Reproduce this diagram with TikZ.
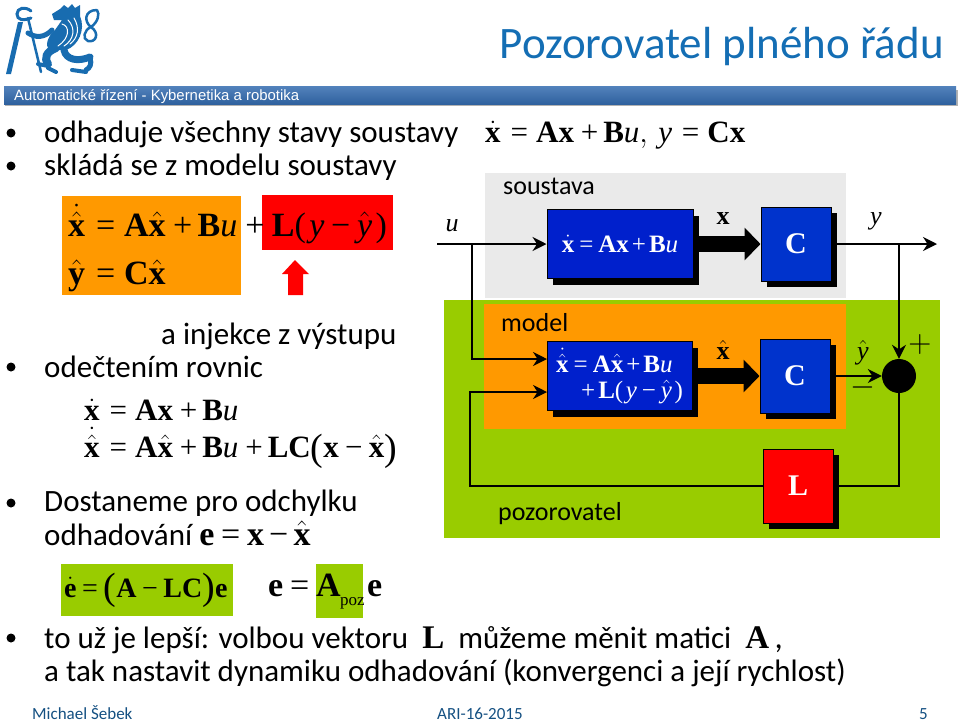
\documentclass[tikz,border=0pt]{standalone}
\usepackage{fix-cm}
\usepackage{fontspec}
\setmainfont{Carlito}
\newfontfamily\tms{Liberation Serif}
\newfontfamily\arl{Liberation Sans}
\usetikzlibrary{arrows.meta,shadows}
\definecolor{cvutblue}{RGB}{24,108,176}
\definecolor{titleblue}{RGB}{20,110,180}
\definecolor{barblue}{RGB}{52,108,176}
\definecolor{boxgrey}{RGB}{234,234,234}
\definecolor{boxgreen}{RGB}{153,204,0}
\definecolor{boxorange}{RGB}{255,153,0}
\definecolor{blockblue}{RGB}{0,32,204}
\definecolor{cblue}{RGB}{0,51,204}
\definecolor{footblue}{RGB}{20,80,130}
\newcommand{\bv}[1]{\mbox{\tms\bfseries #1}}
\newcommand{\iv}[1]{\mbox{\tms\itshape #1}}
\newcommand{\xh}{\hat{\bv{x}}}
\newcommand{\xd}{\dot{\bv{x}}}
\newcommand{\xhd}{\dot{\xh}}
\newcommand{\yh}{\hat{\iv{y}}}
\newcommand{\EQ}{\mbox{\tms\kern.2em=\kern.2em}}
\newcommand{\EQW}{\mbox{\tms\kern.32em=\kern.26em}}
\newcommand{\PL}{\mbox{\tms\kern.12em+\kern.12em}}
\newcommand{\PLW}{\mbox{\tms\kern.22em+\kern.16em}}
\newcommand{\MN}{\mbox{\tms\kern.2em−\kern.2em}}
\newcommand{\LP}{\mbox{\tms(\kern.1em}}
\newcommand{\RP}{\mbox{\tms\kern.1em)}}
\newcommand{\BLP}{\raisebox{-.1em}{\tms\fontsize{38}{38}\selectfont(}}
\newcommand{\BRP}{\raisebox{-.1em}{\tms\fontsize{38}{38}\selectfont)}}
\newcommand{\fs}[1]{\fontsize{#1}{#1}\selectfont}
\begin{document}
\begin{tikzpicture}[x=1pt,y=-1pt,>=Stealth]
\tikzstyle{para}=[anchor=base west,inner sep=0pt,font=\fs{31}]
\tikzstyle{eqn}=[anchor=base west,inner sep=0pt,font=\fs{31}]
\tikzstyle{eqbig}=[anchor=base west,inner sep=0pt,font=\fs{34}]
\tikzstyle{tag}=[anchor=base west,inner sep=0pt,font=\fs{26}]
\tikzstyle{foot}=[anchor=base west,inner sep=0pt,font=\fs{17},text=footblue]
\tikzstyle{dotmark}=[circle,fill=black,inner sep=0pt,minimum size=9pt]
\tikzstyle{blk}=[draw=black,line width=1pt,text=white,align=center,inner sep=0pt,drop shadow={shadow xshift=5.5pt,shadow yshift=-6pt,fill=black,opacity=1}]
\tikzstyle{sig}=[line width=1.7pt,-{Stealth[length=14pt,width=14pt]}]
\tikzstyle{wire}=[line width=1.7pt]
\tikzstyle{fat}=[line width=16pt,-{Triangle[length=16pt,width=32pt]}]
\useasboundingbox (0,0) rectangle (960,724);
\fill[white] (0,0) rectangle (960,724);
% logo
\begin{scope}[cvutblue,line cap=round]
\fill (6,74) -- (18,22) -- (23,22) -- (11,74) -- cycle;
\draw[line width=3pt] (31,11) .. controls (25,6) and (17,8) .. (17,14) .. controls (17,20) and (23,21) .. (31,18);
\draw[line width=2.5pt] (28,18) -- (41,72);
\draw[line width=5pt] (28,33) .. controls (36,38) and (44,38) .. (52,30);
\fill (52,14) -- (60,9) -- (64,5) -- (68,8) -- (72,4) -- (75,8) -- (80,5) -- (80,16) .. controls (86,30) and (78,46) .. (66,50) -- (50,50) .. controls (44,46) and (48,36) .. (55,30) -- (62,20) -- (54,20) -- cycle;
\draw[line width=8pt] (56,48) .. controls (46,52) and (44,58) .. (48,64);
\draw[line width=4pt] (48,66) -- (38,64);
\draw[line width=4pt] (48,68) -- (56,72);
\draw[line width=7pt] (64,50) .. controls (66,60) and (78,62) .. (90,57);
\draw[line width=5pt] (90,58) .. controls (92,64) and (90,68) .. (86,70);
\draw[line width=4pt] (86,72) -- (72,70);
\draw[white,line width=1pt] (62,24) .. controls (70,26) and (70,38) .. (58,46);
\draw[white,line width=1pt] (68,20) .. controls (76,28) and (74,40) .. (64,46);
\draw[white,line width=1pt] (74,18) .. controls (80,28) and (78,38) .. (70,44);
\draw[line width=2.5pt] (97,10) .. controls (84,10) and (84,22) .. (91,27) .. controls (100,33) and (96,43) .. (88,41) .. controls (82,39) and (84,30) .. (91,27) .. controls (98,22) and (100,14) .. (97,10);
\end{scope}
% title and bar
\node[anchor=base east,inner sep=0pt,font=\fs{45},text=titleblue] (title) at (944,58) {Pozorovatel plného řádu};
\fill[black!30] (5,90) rectangle (958,106);
\shade[top color=barblue!85,bottom color=barblue!90!black] (4,86) rectangle (956,104);
\node[anchor=base west,inner sep=0pt,font=\arl\fs{14.9},text=white] (bar) at (14,100) {Automatické řízení - Kybernetika a robotika};
% bullets and text
\foreach \yy in {133,166,367,503,638} \node[dotmark] at (11,\yy) {};
\node[para] (t1) at (44,142) {odhaduje všechny stavy soustavy};
\node[para] (t2) at (44,175) {skládá se z modelu soustavy};
\node[para] (t3) at (161,344) {a injekce z výstupu};
\node[para] (t4) at (44,377) {odečtením rovnic};
\node[para] (t5) at (44,511) {Dostaneme pro odchylku};
\node[para] (t6) at (44,545) {odhadování {\fs{34}$\bv{e}\EQ\bv{x}\kern-.05em\MN\kern-.05em\xh$}};
\node[para] (t7) at (44,648) {to už je lepší: volbou vektoru\hspace{14pt}{\fs{33}\bv{L}}\hspace{14pt}můžeme měnit matici\hspace{14pt}{\fs{33}\bv{A}\,,}};
\node[para] (t8) at (44,681) {a tak nastavit dynamiku odhadování (konvergenci a její rychlost)};
\node[eqn] (eq0) at (485,142) {$\xd\EQW\bv{Ax}\PLW\bv{B}\iv{u},\,\iv{y}\EQW\bv{Cx}$};
% left boxes
\fill[boxorange] (62,196) rectangle (241,295);
\fill[red] (262,195) rectangle (393,250);
\fill[red] (295,260) -- (309,274) -- (303,274) -- (303,295) -- (288,295) -- (288,274) -- (282,274) -- cycle;
\node[eqbig] (eq1) at (68,236) {$\xhd\EQW\bv{A}\xh\PLW\bv{B}\iv{u}$};
\node[eqbig] (eq2) at (241,236) {$\PL\kern.1em\bv{L}\LP\iv{y}\MN\yh\RP$};
\node[eqbig] (eq3) at (68,284) {$\hat{\bv{y}}\EQW\bv{C}\xh$};
\node[eqn] (eq4) at (84,420) {$\xd\EQW\bv{Ax}\PLW\bv{B}\iv{u}$};
\node[eqn] (eq5) at (84,457) {$\xhd\EQW\bv{A}\xh\PLW\bv{B}\iv{u}\PLW\bv{LC}\BLP\bv{x}\MN\xh\BRP$};
\fill[boxgreen] (61,564) rectangle (233,616);
\fill[boxgreen] (316,564) rectangle (363,618);
\node[anchor=base west,inner sep=0pt,font=\fs{28}] (eq6) at (64,597) {$\dot{\bv{e}}\EQ\BLP\bv{A}\MN\bv{LC}\BRP\bv{e}$};
\node[eqbig] (eq7) at (268,596) {$\bv{e}\EQ\bv{A}$};
\node[anchor=base west,inner sep=0pt,font=\tms\fs{17}] (poz) at (340,605) {poz};
\node[eqbig] (eq8) at (367,596) {\bv{e}};
% block diagram
\fill[boxgrey] (485,173) rectangle (846,298);
\fill[boxgreen] (444,300) rectangle (940,538);
\fill[boxorange] (484,304) rectangle (846,429);
\node[tag] (soustava) at (503,194) {soustava};
\node[tag] (model) at (501,331) {model};
\node[tag] (pozor) at (498,520) {pozorovatel};
\node[blk,fill=blockblue,minimum width=146pt,minimum height=69pt,font=\fs{25}] (sys) at (620,244) {$\xd\EQ\bv{Ax}\PL\bv{B}\iv{u}$};
\node[blk,fill=cblue,minimum width=70pt,minimum height=74pt,font=\tms\bfseries\fs{30}] (c1) at (796,244) {C};
\node[blk,fill=blockblue,minimum width=145pt,minimum height=69pt,font=\fs{25},align=left] (obs) at (619.5,376) {$\xhd\EQ\bv{A}\xh\PL\bv{B}\iv{u}$\\[1pt]\hspace*{22pt}$\PL\bv{L}\LP\iv{y}\MN\yh\RP$};
\node[blk,fill=cblue,minimum width=70pt,minimum height=74pt,font=\tms\bfseries\fs{30}] (c2) at (795,376) {C};
\node[blk,fill=red,minimum width=70pt,minimum height=74pt,font=\tms\bfseries\fs{30}] (gain) at (798,486) {L};
\node[circle,fill=black,minimum size=34pt,inner sep=0pt] (sum) at (899,376) {};
\coordinate (uin) at (437,244);
\coordinate (ujoin) at (472,244);
\coordinate (uup) at (472,359);
\coordinate (ob1) at (547,359);
\coordinate (ob2) at (547,392);
\coordinate (fbup) at (470,392);
\coordinate (fbdn) at (470,486);
\coordinate (yout) at (937,244);
\coordinate (yjoin) at (899,244);
\coordinate (lout) at (899,486);
\coordinate (sysout) at (698.5,244);
\coordinate (obsout) at (698,376);
\draw[sig] (uin) -- (sys.west);
\draw[sig] (ujoin) -- (uup) -- (ob1);
\draw[sig] (gain.west) -- (fbdn) -- (fbup) -- (ob2);
\draw[fat] (sysout) -- (c1.west);
\draw[fat] (obsout) -- (c2.west);
\draw[sig] (c1.east) ++(5.5pt,0pt) -- (yout);
\draw[sig] (yjoin) -- (sum.north);
\draw[sig] (c2.east) ++(5.5pt,0pt) -- (sum.west);
\draw[wire] (sum.south) -- (lout) -- ([xshift=5.5pt]gain.east);
\node[font=\tms\itshape\fs{26},inner sep=0pt] (ulab) at (452,226) {u};
\node[font=\tms\itshape\fs{26},inner sep=0pt] (ylab) at (876,221) {y};
\node[font=\tms\bfseries\fs{26},inner sep=0pt] (xlab) at (723,219) {x};
\node[font=\fs{26},inner sep=0pt] (xhlab) at (723,350) {$\xh$};
\node[font=\fs{26},inner sep=0pt] (yhlab) at (863,353) {$\yh$};
\node[font=\fs{32},inner sep=0pt] (plus) at (920,344) {$+$};
\node[font=\fs{32},inner sep=0pt] (minus) at (863,387) {$-$};
% footer
\node[foot] (f1) at (32,719) {Michael Šebek};
\node[foot] (f2) at (437,719) {ARI-16-2015};
\node[foot] (f3) at (919,719) {5};
\end{tikzpicture}
\end{document}
